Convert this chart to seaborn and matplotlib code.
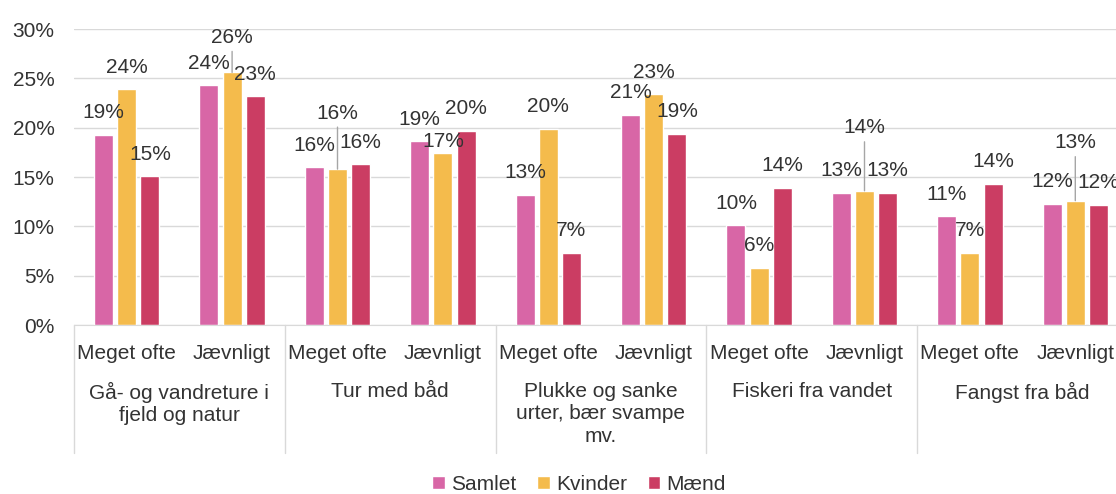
import pandas as pd
import matplotlib.pyplot as plt
import matplotlib.transforms as mtransforms
import seaborn as sns

# data (percent)
activities = ["Gå- og vandreture i\nfjeld og natur", "Tur med båd",
              "Plukke og sanke\nurter, bær svampe\nmv.", "Fiskeri fra vandet",
              "Fangst fra båd"]
frequencies = ["Meget ofte", "Jævnligt"]
series = ["Samlet", "Kvinder", "Mænd"]

samlet = [19.3, 24.3, 16.0, 18.6, 13.2, 21.3, 10.1, 13.4, 11.0, 12.3]
kvinder = [23.9, 25.6, 15.8, 17.4, 19.9, 23.4, 5.8, 13.6, 7.3, 12.6]
maend = [15.1, 23.2, 16.3, 19.7, 7.3, 19.4, 13.9, 13.4, 14.3, 12.2]

colors = ["#D866A6", "#F4BB4C", "#CB3D63"]
text_col = "#333333"
grid_col = "#d9d9d9"
fs = 15

# long table, one row per bar
keys = [f"{a}|{f}" for a in activities for f in frequencies]
rows = []
for name, vals in zip(series, [samlet, kvinder, maend]):
    for k, v in zip(keys, vals):
        rows.append({"key": k, "serie": name, "value": v})
df = pd.DataFrame(rows)

sns.set_style("white")
plt.rcParams["font.family"] = ["Liberation Sans", "DejaVu Sans"]
plt.rcParams["font.size"] = fs

fig = plt.figure(figsize=(11.16, 4.94), dpi=100)
W, H = 1116, 494
# axes runs past the right edge of the figure, like the cropped original
ax = fig.add_axes([74 / W, 1 - 325 / H, (1128 - 74) / W, 296 / H])

sns.barplot(data=df, x="key", y="value", hue="serie", order=keys,
            hue_order=series, palette=colors, width=0.66, gap=0.18,
            saturation=1, ax=ax)

ax.set_ylim(0, 30)
ax.set_xlim(-0.5, len(keys) - 0.5)
ax.set_yticks(range(0, 31, 5))
ax.set_yticklabels([f"{t}%" for t in range(0, 31, 5)], color=text_col)
ax.tick_params(axis="y", length=0, pad=14, labelsize=fs)
ax.set_xticks([])
ax.set_xlabel("")
ax.set_ylabel("")
ax.yaxis.grid(True, color=grid_col, lw=1)
ax.set_axisbelow(True)
for s in ["left", "right", "top"]:
    ax.spines[s].set_visible(False)
ax.spines["bottom"].set_color(grid_col)

# data labels; a few Kvinder labels are lifted (some with leader lines)
kvinder_lift = {1: 35, 2: 56, 3: 12, 7: 63, 9: 58}
for si, cont in enumerate(ax.containers):
    for i, bar in enumerate(cont):
        x = bar.get_x() + bar.get_width() / 2
        h = bar.get_height()
        dy = 22
        if si == 1 and i in kvinder_lift:
            dy = kvinder_lift[i]
        ax.annotate(f"{h:.0f}%", (x, h), xytext=(0, dy),
                    textcoords="offset pixels", ha="center", va="center",
                    color=text_col, fontsize=fs, annotation_clip=False)
        if dy > 30:
            ax.annotate("", (x, h), xytext=(0, dy - 14),
                        textcoords="offset pixels",
                        arrowprops=dict(arrowstyle="-", color="#a6a6a6",
                                        lw=1, shrinkA=0, shrinkB=0))

# two-level category axis
tr = mtransforms.blended_transform_factory(ax.transData, ax.transAxes)
for i, k in enumerate(keys):
    ax.text(i, -28 / 296, k.split("|")[1], transform=tr, ha="center",
            va="center", color=text_col, fontsize=fs)
for g, act in enumerate(activities):
    ax.text(2 * g + 0.5, -57 / 296, act, transform=tr, ha="center", va="top",
            color=text_col, fontsize=fs, linespacing=1.22)
for b in range(len(activities) + 1):
    ax.plot([2 * b - 0.5, 2 * b - 0.5], [0, -128 / 296], transform=tr,
            color=grid_col, lw=1, clip_on=False)

handles, labels = ax.get_legend_handles_labels()
ax.get_legend().remove()
leg = fig.legend(handles, labels, loc="center", ncol=3, frameon=False,
                 bbox_to_anchor=(579 / W, 1 - 484 / H), fontsize=fs,
                 handlelength=0.6, handleheight=0.6, handletextpad=0.3,
                 columnspacing=1.0)
for t in leg.get_texts():
    t.set_color(text_col)

fig.savefig("out.png", dpi=100)
